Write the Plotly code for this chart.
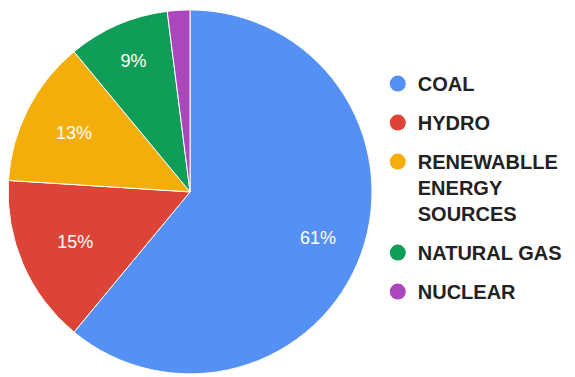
import math
import plotly.graph_objects as go

labels = ["COAL", "HYDRO", "RENEWABLLE<br>ENERGY<br>SOURCES", "NATURAL GAS", "NUCLEAR"]
values = [61, 15, 13, 9, 2]
colors = ["#5591f5", "#dc4437", "#f4ae0b", "#109d58", "#ab47bc"]
text_pos = ["none", "inside", "inside", "inside", "none"]

W, H = 575, 377
dom_x = [0.014, 0.647]
dom_y = [0.008, 0.974]

fig = go.Figure()
fig.add_trace(go.Pie(
    labels=labels, values=values, sort=False, direction="clockwise", rotation=0,
    marker=dict(colors=colors, line=dict(color="white", width=1)),
    textinfo="percent", textposition=text_pos, insidetextorientation="horizontal",
    textfont=dict(family="Liberation Sans, Arial", size=18, color="white"),
    domain=dict(x=dom_x, y=dom_y),
    showlegend=False, hoverinfo="label+percent",
))

# label for the largest slice placed at its mid-angle, 3/4 of the radius out
total = sum(values)
mid_frac = values[0] / 2 / total
ang = 2 * math.pi * mid_frac
r_px = min((dom_x[1] - dom_x[0]) * W, (dom_y[1] - dom_y[0]) * H) / 2
cx = (dom_x[0] + dom_x[1]) / 2
cy = (dom_y[0] + dom_y[1]) / 2
fig.add_annotation(
    x=cx + 0.75 * r_px * math.sin(ang) / W, y=cy + 0.75 * r_px * math.cos(ang) / H,
    xref="paper", yref="paper", showarrow=False,
    text=f"{round(100 * values[0] / total)}%",
    font=dict(family="Liberation Sans, Arial", size=18, color="white"),
)

for i, (lab, col) in enumerate(zip(labels, colors)):
    fig.add_trace(go.Scatter(
        x=[None], y=[None], mode="markers", name=lab, legendgroup=f"g{i}",
        marker=dict(symbol="circle", size=16, color=col),
    ))

fig.update_layout(
    width=W, height=H,
    margin=dict(l=0, r=0, t=0, b=0),
    paper_bgcolor="white", plot_bgcolor="white",
    xaxis=dict(visible=False), yaxis=dict(visible=False),
    legend=dict(
        x=0.657, y=0.83, xanchor="left", yanchor="top",
        font=dict(family="Liberation Sans, Arial", size=20, color="#222222", weight="bold"),
        itemsizing="trace", bgcolor="rgba(0,0,0,0)", valign="top",
        tracegroupgap=10,
    ),
)
fig.write_html("out.html")
